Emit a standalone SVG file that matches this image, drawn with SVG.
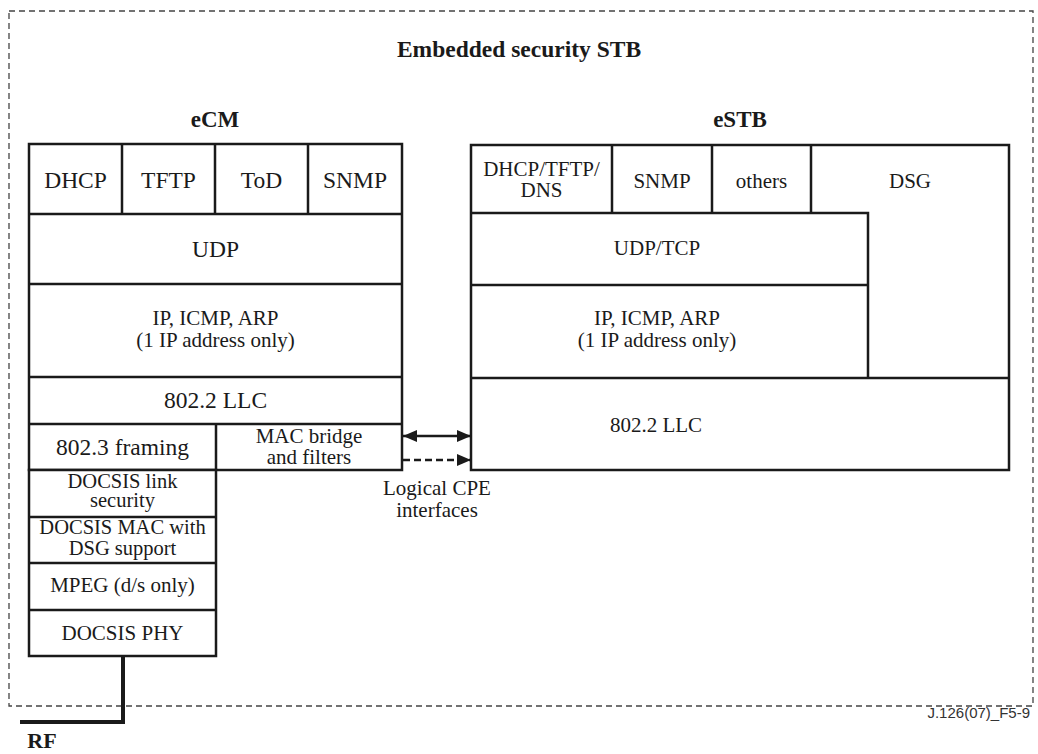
<svg xmlns="http://www.w3.org/2000/svg" width="1038" height="754" viewBox="0 0 1038 754">
  <style>
    .box { fill: #ffffff; stroke: #1a1a1a; stroke-width: 2.5; }
    .ln { fill: none; stroke: #1a1a1a; stroke-width: 2.5; }
    .t { font-family: "Liberation Serif", "Times New Roman", serif; fill: #1a1a1a; text-anchor: middle; }
    .s21 { font-size: 21px; }
    .s20 { font-size: 20.5px; }
    .s23 { font-size: 23.5px; }
    .b { font-weight: bold; font-size: 23px; }
    .frame { fill: none; stroke: #444444; stroke-width: 1.3; stroke-dasharray: 6 4; }
  </style>
  <defs>
    <marker id="ah" viewBox="0 0 14 12" refX="14" refY="6" markerWidth="14" markerHeight="12" markerUnits="userSpaceOnUse" orient="auto-start-reverse">
      <path d="M0,0 L14,6 L0,12 Z" fill="#1a1a1a"/>
    </marker>
  </defs>

  <rect width="1038" height="754" fill="#ffffff"/>

  <!-- outer dashed enclosure -->
  <rect id="frame" class="frame" x="9" y="11" width="1024" height="695"/>
  <text class="t b" x="519" y="57" style="font-size:23.5px">Embedded security STB</text>

  <!-- eCM protocol stack -->
  <g id="ecm">
    <text class="t b" x="215" y="127">eCM</text>
    <rect class="box" x="29" y="144" width="373" height="326"/>
    <rect class="box" x="29" y="470" width="187" height="186"/>
    <path class="ln" d="M122,144 V214 M215,144 V214 M308,144 V214 M29,214 H402 M29,284 H402 M29,377 H402 M29,424 H402 M216,424 V470 M29,517 H216 M29,563 H216 M29,610 H216"/>
    <text class="t s23" x="75.5" y="188">DHCP</text>
    <text class="t s23" x="168.5" y="188">TFTP</text>
    <text class="t s23" x="261.5" y="188">ToD</text>
    <text class="t s23" x="355" y="188">SNMP</text>
    <text class="t s23" x="215.5" y="257">UDP</text>
    <text class="t s21" x="215.5" y="325">IP, ICMP, ARP</text>
    <text class="t s21" x="215.5" y="347">(1 IP address only)</text>
    <text class="t s23" x="215.5" y="408">802.2 LLC</text>
    <text class="t s23" x="122.5" y="455">802.3 framing</text>
    <text class="t s21" x="309" y="443">MAC bridge</text>
    <text class="t s21" x="309" y="464">and filters</text>
    <text class="t s20" x="122.5" y="488">DOCSIS link</text>
    <text class="t s20" x="122.5" y="507">security</text>
    <text class="t s20" x="122.5" y="534">DOCSIS MAC with</text>
    <text class="t s20" x="122.5" y="555">DSG support</text>
    <text class="t s21" x="122.5" y="592">MPEG (d/s only)</text>
    <text class="t s21" x="122.5" y="640">DOCSIS PHY</text>
  </g>

  <!-- eSTB protocol stack -->
  <g id="estb">
    <text class="t b" x="740" y="127">eSTB</text>
    <rect class="box" x="471" y="145" width="538" height="325"/>
    <path class="ln" d="M612,145 V213 M712,145 V213 M811,145 V213 M471,213 H868 V378 M471,285 H868 M471,378 H1009"/>
    <text class="t s21" x="541.5" y="176">DHCP/TFTP/</text>
    <text class="t s21" x="541.5" y="197">DNS</text>
    <text class="t s21" x="662" y="188">SNMP</text>
    <text class="t s21" x="761.5" y="188">others</text>
    <text class="t s21" x="910" y="188">DSG</text>
    <text class="t s21" x="657" y="255">UDP/TCP</text>
    <text class="t s21" x="657" y="325">IP, ICMP, ARP</text>
    <text class="t s21" x="657" y="347">(1 IP address only)</text>
    <text class="t s21" x="656" y="432">802.2 LLC</text>
  </g>

  <!-- RF feed -->
  <g id="rf">
    <path d="M123,656 V722 H20" fill="none" stroke="#1a1a1a" stroke-width="4"/>
    <text class="t b" x="42" y="748" style="font-size:22px">RF</text>
  </g>

  <!-- interfaces between eCM and eSTB -->
  <g id="connectors">
    <line class="ln" x1="403" y1="436" x2="471" y2="436" marker-start="url(#ah)" marker-end="url(#ah)"/>
    <line class="ln" x1="403" y1="460" x2="471" y2="460" stroke-dasharray="7 4" marker-end="url(#ah)"/>
    <text class="t s21" x="437" y="495">Logical CPE</text>
    <text class="t s21" x="437" y="517">interfaces</text>
  </g>

  <text x="1030" y="718" font-family="Liberation Sans, Arial, sans-serif" font-size="15" fill="#333333" text-anchor="end">J.126(07)_F5-9</text>
</svg>
